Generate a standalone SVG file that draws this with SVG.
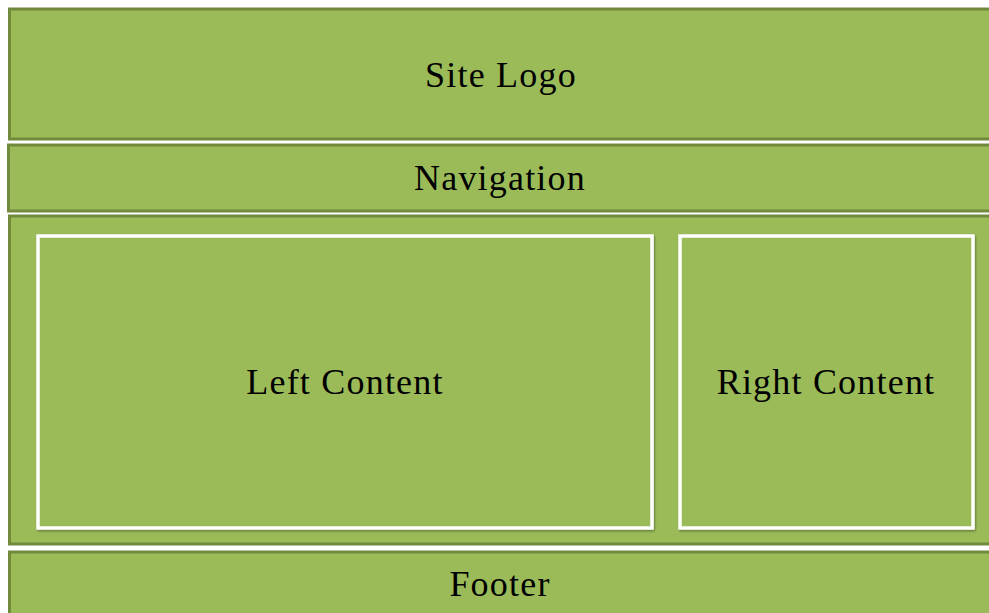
<svg xmlns="http://www.w3.org/2000/svg" width="989" height="613" viewBox="0 0 989 613">
<defs>
<filter id="sh" x="-5%" y="-5%" width="110%" height="110%">
<feDropShadow dx="1" dy="1.5" stdDeviation="1" flood-color="#000" flood-opacity="0.35"/>
</filter>
</defs>
<style>
.band{fill:#9bbb59;stroke:#728a3c;stroke-width:3}
.inner{fill:#9bbb59;stroke:#ffffff;stroke-width:3.5;filter:url(#sh)}
.lbl{font-family:"Liberation Serif","Times New Roman",serif;font-size:36px;fill:#000;text-anchor:middle;letter-spacing:1.2px}
</style>
<rect width="989" height="613" fill="#ffffff"/>
<g id="site-logo">
<rect class="band" x="9.5" y="9" width="990" height="130"/>
<text class="lbl" x="501" y="87">Site Logo</text>
</g>
<g id="navigation">
<rect class="band" x="8.5" y="145" width="990" height="66"/>
<text class="lbl" x="500" y="190">Navigation</text>
</g>
<g id="main">
<rect class="band" x="9.5" y="216" width="990" height="328"/>
</g>
<g id="left-content">
<rect class="inner" x="38" y="236" width="614" height="292"/>
<text class="lbl" x="345" y="394">Left Content</text>
</g>
<g id="right-content">
<rect class="inner" x="680" y="236" width="293" height="292"/>
<text class="lbl" x="826" y="394">Right Content</text>
</g>
<g id="footer">
<rect class="band" x="9.5" y="552" width="990" height="80"/>
<text class="lbl" x="500" y="596">Footer</text>
</g>
<g id="connectors"/>
</svg>
